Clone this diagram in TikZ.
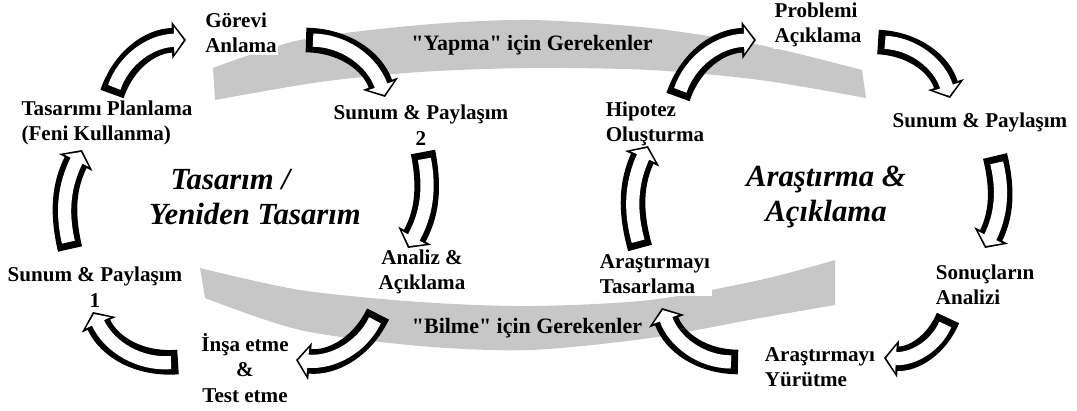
\documentclass[tikz,border=0pt]{standalone}
\usepackage{fontspec}
\setmainfont{Liberation Serif}
\usepackage{tikz}
\usetikzlibrary{arrows.meta}
\tikzstyle{stage}=[
        font=\bfseries\fontsize{12}{14.5}\selectfont,
        fill=white,
        inner sep=1pt
]
\tikzstyle{title}=[
        font=\bfseries\itshape\fontsize{17.5}{20}\selectfont,
        align=center
]
\tikzstyle{need}=[
        font=\bfseries\fontsize{12.5}{15}\selectfont
]
\tikzstyle{band}=[
        fill=black!22
]
\tikzstyle{cycleout}=[
        draw=black,
        line width=14pt,
        -{Triangle[width=21pt,length=8pt]}
]
\tikzstyle{cyclein}=[
        draw=white,
        line width=7.5pt,
        shorten <=4pt,
        shorten >=1.3pt,
        -{Triangle[width=15pt,length=5.5pt]}
]
% from node #1 shifted by #2 to node #3 shifted by #4, bent by #5
\newcommand{\cyclearrow}[5]{%
        \draw[cycleout] ([shift={(#2)}]#1.center) to[bend left=#5] ([shift={(#4)}]#3.center);
        \draw[cyclein] ([shift={(#2)}]#1.center) to[bend left=#5] ([shift={(#4)}]#3.center);
}

\begin{document}
\begin{tikzpicture}[x=0.02cm,y=0.02cm]
                        \useasboundingbox (0,0) rectangle (1077,410);

                        % gray bands
                        \fill[band] plot[smooth] coordinates {(213,342) (300,370) (420,385) (530,390) (650,382) (760,365) (862,340)}
                                -- plot[smooth] coordinates {(866,312) (760,330) (650,340) (530,342) (420,338) (320,328) (215,310)} -- cycle;
                        \fill[band] plot[smooth] coordinates {(200,142) (300,120) (420,108) (530,104) (650,110) (760,130) (835,150)}
                                -- plot[smooth] coordinates {(835,105) (760,92) (650,72) (530,60) (420,64) (300,80) (205,112)} -- cycle;

                        \node[need] (yapma) at (532,365) {\textquotedbl Yapma\textquotedbl{} için Gerekenler};
                        \node[need] (bilme) at (527,82) {\textquotedbl Bilme\textquotedbl{} için Gerekenler};

                        \node[title] (tasarim) at (255,213) {Tasarım /\hspace*{28pt}\\Yeniden Tasarım};
                        \node[title] (arastirma) at (826,213) {Araştırma \&\\Açıklama};

                        % left cycle
                        \node[stage, align=left] (gorev) at (241,377) {Görevi\\Anlama};
                        \node[stage, align=left] (planla) at (107,287) {Tasarımı Planlama\\(Feni Kullanma)};
                        \node[stage, align=center] (sunumiki) at (421,285) {Sunum \& Paylaşım\\2};
                        \node[stage, align=center] (analiz) at (422,138) {Analiz \&\\Açıklama};
                        \node[stage, align=center] (sunumbir) at (95,123) {Sunum \& Paylaşım\\1};
                        \node[stage, align=center] (insa) at (245,42) {İnşa etme\\\&\\Test etme};

                        % right cycle
                        \node[stage, align=left] (problem) at (818,385) {Problemi\\Açıklama};
                        \node[stage, align=left] (hipotez) at (655,286) {Hipotez\\Oluşturma};
                        \node[stage] (sunumsag) at (980,288) {Sunum \& Paylaşım};
                        \node[stage, align=left] (tasarla) at (655,136) {Araştırmayı\\Tasarlama};
                        \node[stage, align=left] (sonuc) at (985,125) {Sonuçların\\Analizi};
                        \node[stage, align=left] (yurut) at (820,43) {Araştırmayı\\Yürütme};

                        \cyclearrow{planla}{5,29}{gorev}{-55,-7}{35}
                        \cyclearrow{gorev}{65,-7}{sunumiki}{-36,28}{35}
                        \cyclearrow{sunumiki}{2,-27}{analiz}{-14,24}{20}
                        \cyclearrow{analiz}{-44,-42}{insa}{51,8}{35}
                        \cyclearrow{insa}{-67,6}{sunumbir}{-2,-25}{35}
                        \cyclearrow{sunumbir}{-25,38}{planla}{-25,-27}{20}

                        \cyclearrow{hipotez}{23,27}{problem}{-62,-15}{35}
                        \cyclearrow{problem}{60,-17}{sunumsag}{-30,24}{35}
                        \cyclearrow{sunumsag}{15,-34}{sonuc}{0,37}{20}
                        \cyclearrow{sonuc}{-37,-33}{yurut}{64,9}{35}
                        \cyclearrow{yurut}{-82,5}{tasarla}{7,-34}{35}
                        \cyclearrow{tasarla}{-15,26}{hipotez}{-7,-22}{20}
\end{tikzpicture}
\end{document}
